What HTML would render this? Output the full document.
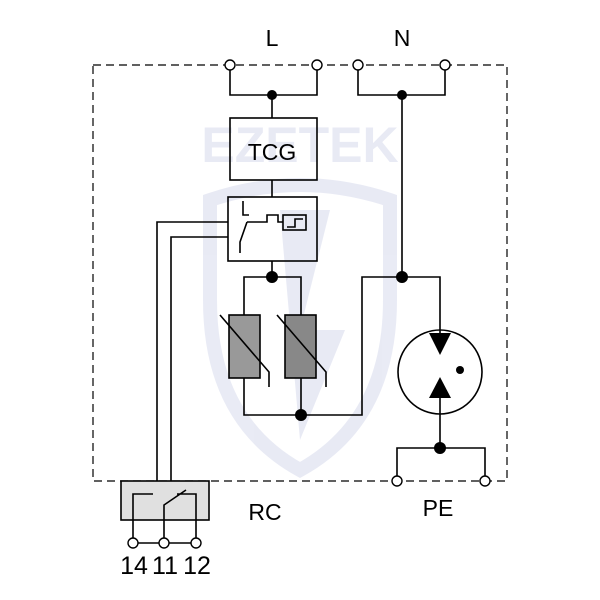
<!DOCTYPE html>
<html><head><style>body{margin:0;background:#fff}svg{display:block}text{font-family:"Liberation Sans",Arial,sans-serif}</style></head><body>
<svg width="600" height="600" viewBox="0 0 600 600" xmlns="http://www.w3.org/2000/svg">
<g opacity="0.1" fill="#2a3aa0">
<text x="300" y="162" font-size="50" font-weight="bold" text-anchor="middle">EZETEK</text>
<path d="M210 200 Q300 170 390 200 L390 300 Q390 420 300 470 Q210 420 210 300 Z" fill="none" stroke="#2a3aa0" stroke-width="14"/>
<path d="M280 210 L330 210 L300 330 L345 330 L300 440 Z" />
</g>
<g fill="none" stroke="#000" stroke-width="1.6">
<path d="M93 65 H507 V481 H93 Z" stroke-dasharray="8 5" stroke-width="1.2"/>
<path d="M230 65 V95 H317 V65 M272 95 V118"/>
<path d="M358 65 V95 H445 V65 M402 95 V277"/>
<rect x="230" y="118" width="87" height="62"/>
<path d="M272 180 V197"/>
<rect x="228" y="197" width="89" height="64"/>
<path d="M243 201 V215 H249 M247 222 L240 242 V253 M247 222 H267 V215 H278 V222 H283"/>
<rect x="283" y="215" width="23" height="15"/>
<path d="M287 227 H295 V219 H303"/>
<path d="M228 222 H157 V481 M228 237 H171 V481"/>
<path d="M272 261 V277 M244 315 V277 H301 V315"/>
<path d="M244 378 V415 H362 V277 H440 V340 M301 378 V415"/>
<circle cx="440" cy="372" r="42"/>
<path d="M440 390 V448 M397 481 V448 H485 V481"/>
<rect x="121" y="481" width="88" height="39" fill="#e0e0e0"/>
<path d="M133 543 V494 H153 M164 543 V505 L186 490 M177 494 H196 V543 M133 543 H196"/>
</g>
<g fill="#fff" stroke="#000" stroke-width="1.4">
<circle cx="230" cy="65" r="5"/><circle cx="317" cy="65" r="5"/><circle cx="358" cy="65" r="5"/><circle cx="445" cy="65" r="5"/>
<circle cx="397" cy="481" r="5"/><circle cx="485" cy="481" r="5"/>
<circle cx="133" cy="543" r="5"/><circle cx="164" cy="543" r="5"/><circle cx="196" cy="543" r="5"/>
</g>
<g fill="#999" stroke="#000" stroke-width="1.6"><rect x="229" y="315" width="31" height="63"/><rect x="285" y="315" width="31" height="63" fill="#888"/></g>
<path d="M220 315 L269 372 V387 M277 315 L326 372 V387" fill="none" stroke="#000" stroke-width="1.6"/>
<g fill="#000">
<circle cx="272" cy="95" r="5"/><circle cx="402" cy="95" r="5"/><circle cx="272" cy="277" r="6"/><circle cx="402" cy="277" r="6"/><circle cx="301" cy="415" r="6"/><circle cx="440" cy="448" r="6"/>
<path d="M429 333 H451 L440 355 Z"/><path d="M429 398 H451 L440 377 Z"/><circle cx="460" cy="370" r="4"/>
</g>
<g font-size="23" text-anchor="middle" fill="#000">
<text x="272" y="46">L</text><text x="402" y="46">N</text>
<text x="272" y="160">TCG</text>
<text x="265" y="520">RC</text><text x="438" y="516">PE</text>
</g>
<g font-size="25" text-anchor="middle" fill="#000">
<text x="134" y="574">14</text><text x="165" y="574">11</text><text x="197" y="574">12</text>
</g>
</svg>
</body></html>
